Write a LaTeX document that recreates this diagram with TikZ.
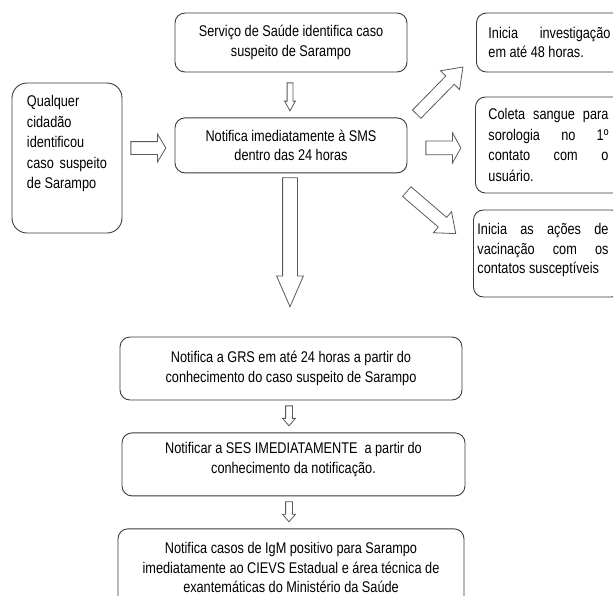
\documentclass[tikz,border=0pt]{standalone}
\usepackage{fontspec}
\setmainfont{Liberation Sans}[FakeStretch=0.82]
\usetikzlibrary{shapes.arrows,positioning,calc}
\definecolor{borda}{HTML}{3A3A3A}
\definecolor{cinza}{HTML}{5A5A5A}
\tikzstyle{etapa} = [draw=borda, line width=0.9pt, rounded corners=10pt, fill=white, inner sep=6pt, align=center, font=\fontsize{15.5}{19.5}\selectfont]
\tikzstyle{acao} = [etapa, anchor=west, align=flush left, text width=130pt]
\tikzstyle{seta} = [single arrow, draw=cinza, fill=white, line width=0.8pt, inner xsep=0pt, anchor=tail]
% comprimento, largura da ponta, largura do corpo, angulo da ponta
\tikzset{forma/.style n args={4}{minimum height=#1, minimum width=#2, inner ysep=#3/2, single arrow head extend=(#2-#3)/2, single arrow tip angle=#4}}
\newcommand{\just}[2]{\makebox[#1][s]{#2}}

\begin{document}
\begin{tikzpicture}[x=1pt,y=-1pt]
\useasboundingbox (0,0) rectangle (613,595);
\clip (0,0) rectangle (613,595);

% caixas centrais
\node[etapa, minimum width=232pt, minimum height=59pt] (servico) at (291,42.5) {Serviço de Saúde identifica caso\\suspeito de Sarampo};
\node[etapa, minimum width=232pt, minimum height=55pt, below=45pt of servico] (sms) {Notifica imediatamente à SMS\\dentro das 24 horas};
\node[etapa, rounded corners=15pt, align=flush left, text width=80pt, inner xsep=15pt, minimum width=110pt, minimum height=150pt, text depth=114pt, font=\fontsize{15.5}{20.5}\selectfont] (cidadao) at (67,158) {Qualquer\\cidadão\\identificou\\\just{80pt}{caso suspeito}\\de Sarampo};

% caixas da direita
\node[acao, inner xsep=12pt, minimum height=59pt] (investiga) at (476,42.5) {\just{122pt}{Inicia investigação}\\em até 48 horas.};
\node[acao, inner xsep=13pt, minimum height=96pt, font=\fontsize{15.5}{20.5}\selectfont] (coleta) at (475,145) {\just{120pt}{Coleta sangue para}\\\just{120pt}{sorologia no 1º}\\\just{120pt}{contato com o}\\usuário.};
\node[acao, inner xsep=4pt, text width=140pt, minimum height=87pt, text depth=49pt] (vacina) at (473,253.5) {\just{131pt}{Inicia as ações de}\\\just{131pt}{vacinação com os}\\contatos susceptíveis};

% caixas de baixo
\node[etapa, minimum width=342pt, minimum height=63pt] (grs) at (291,368.5) {Notifica a GRS em até 24 horas a partir do\\conhecimento do caso suspeito de Sarampo};
\node[etapa, minimum width=343pt, minimum height=63pt, text depth=13.5pt, below=32pt of grs, xshift=2.5pt] (ses) {Notificar a SES IMEDIATAMENTE~ a partir do\\conhecimento da notificação.};
\node[etapa, minimum width=346pt, minimum height=78pt, below=32pt of ses, xshift=-2.5pt] (igm) {Notifica casos de IgM positivo para Sarampo\\imediatamente ao CIEVS Estadual e área técnica de\\exantemáticas do Ministério da Saúde};

% setas
\node[seta, forma={28pt}{10pt}{5pt}{58}, rotate=-90] (s1) at ([shift={(-1pt,-10pt)}]servico.south) {};
\node[seta, forma={35pt}{27pt}{12pt}{118}] (s2) at ([shift={(8pt,10pt)}]cidadao.east) {};
\node[seta, forma={129pt}{26pt}{14pt}{47}, rotate=-90] (s3) at ([shift={(-1pt,-4pt)}]sms.south) {};
\node[seta, forma={35pt}{29pt}{13pt}{122}] (s4) at ([shift={(18pt,-2.5pt)}]sms.east) {};
\node[seta, forma={66pt}{26pt}{11pt}{72}, rotate=45.6] (s5) at ([shift={(9pt,3pt)}]sms.north east) {};
\node[seta, forma={64.5pt}{27pt}{12pt}{77}, rotate=-40.6] (s6) at ([shift={(-1pt,-18pt)}]sms.south east) {};
\node[seta, forma={20pt}{12pt}{6pt}{81}, rotate=-90] (s7) at ([shift={(-2pt,-5pt)}]grs.south) {};
\node[seta, forma={20pt}{12pt}{6pt}{81}, rotate=-90] (s8) at ([shift={(-4.5pt,-5pt)}]ses.south) {};
\end{tikzpicture}
\end{document}
